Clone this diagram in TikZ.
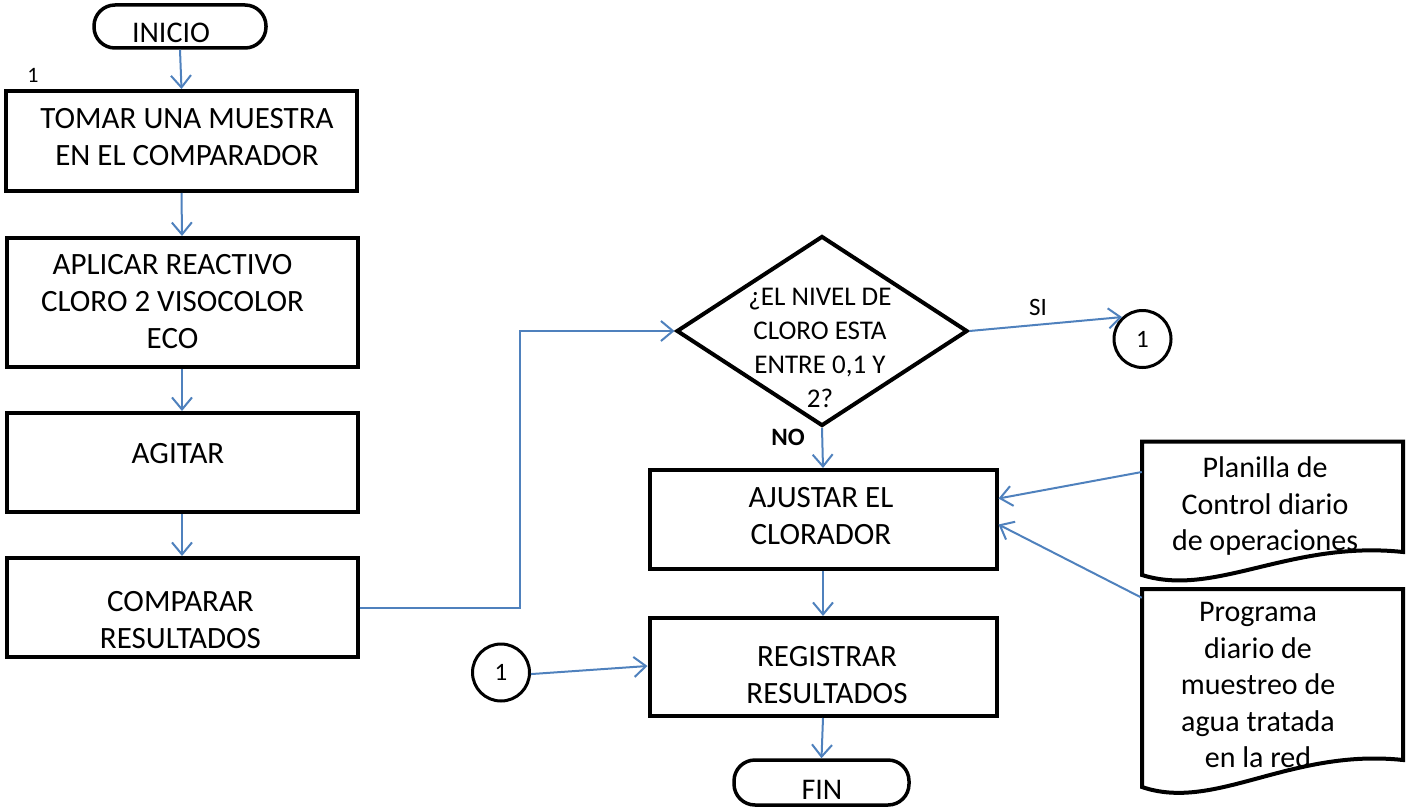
\documentclass[tikz,border=0pt]{standalone}
\usepackage{fontspec}
\setmainfont{Carlito}
\usetikzlibrary{arrows.meta,shapes.geometric}
\definecolor{flowblue}{RGB}{79,129,189}
\tikzset{
  procbox/.style={draw, line width=4pt, inner sep=0pt, minimum width=351pt, minimum height=100pt},
  termbox/.style={draw, line width=3.5pt, rounded corners=21pt, inner sep=0pt},
  decbox/.style={draw, diamond, line width=4pt, inner sep=0pt, minimum width=291pt, minimum height=190pt},
  conn/.style={draw, circle, line width=3pt, inner sep=0pt, minimum size=57pt,
    font=\fontsize{25}{30}\selectfont},
  docline/.style={draw, line width=4pt, line join=miter},
  docarea/.style={inner sep=0pt, minimum width=261pt},
  bigtxt/.style={align=center, inner sep=0pt, font=\fontsize{31}{37}\selectfont},
  midtxt/.style={align=center, inner sep=0pt, font=\fontsize{27}{34}\selectfont},
  doctxt/.style={align=center, inner sep=0pt, font=\fontsize{30}{36.5}\selectfont},
  smalltxt/.style={inner sep=0pt, font=\fontsize{25}{30}\selectfont},
  flow/.style={draw=flowblue, line width=2pt, -{Straight Barb[length=12pt,width=20pt]}}
}
\begin{document}
\begin{tikzpicture}[x=1pt, y=-1pt]
\useasboundingbox (0,0) rectangle (1408,808);

% left column
\node[termbox, minimum width=172pt, minimum height=43pt] (ini) at (180,26.5) {};
\node[bigtxt, font=\fontsize{30}{36}\selectfont] (tini) at (171,32.5) {INICIO};
\node[smalltxt, font=\fontsize{22}{26}\selectfont] (lab1) at (33,75) {1};

\node[procbox] (b1) at (181.5,141) {};
\node[bigtxt] (t1) at (187,137.5) {TOMAR UNA MUESTRA\\EN EL COMPARADOR};

\node[procbox, minimum height=129pt] (b2) at (182,302.5) {};
\node[bigtxt] (t2) at (172.5,301.5) {APLICAR REACTIVO\\CLORO 2 VISOCOLOR\\ECO};

\node[procbox, minimum height=99pt] (b3) at (182,462.5) {};
\node[bigtxt] (t3) at (178,454) {AGITAR};

\node[procbox, minimum height=99pt] (b4) at (182,607.5) {};
\node[bigtxt] (t4) at (180.5,620) {COMPARAR\\RESULTADOS};

% decision and right column
\node[decbox] (dia) at (822,331) {};
\node[midtxt] (tdia) at (820,348) {¿EL NIVEL DE\\CLORO ESTA\\ENTRE 0,1 Y\\2?};

\node[conn] (c1) at (1142.5,339) {1};
\node[smalltxt] (si) at (1038,307.5) {SI};
\node[smalltxt, font=\fontsize{25}{30}\selectfont\bfseries] (no) at (788,437.5) {NO};

\node[procbox, minimum width=347pt, minimum height=99pt] (aj) at (823,519.5) {};
\node[bigtxt] (taj) at (821,516) {AJUSTAR EL\\CLORADOR};

\node[procbox, minimum width=347pt, minimum height=98pt] (reg) at (823,667) {};
\node[bigtxt] (treg) at (827,675.5) {REGISTRAR\\RESULTADOS};

\node[conn] (c2) at (501,672.5) {1};

\node[termbox, minimum width=175pt, minimum height=45pt] (fin) at (821.5,782.5) {};
\node[bigtxt, font=\fontsize{30}{36}\selectfont] (tfin) at (822,790) {FIN};

% documents
\node[docarea, minimum height=133.5pt] (d1) at (1272.5,508) {};
\draw[docline] (1142,575) -- (1142,441.5) -- (1403,441.5) -- (1403,552)
  .. controls (1290,540) and (1215,598) .. (1142,575) -- cycle;
\node[doctxt] (td1) at (1265,506) {Planilla de\\Control diario\\de operaciones};

\node[docarea, minimum height=198pt] (d2) at (1272.5,688) {};
\draw[docline] (1142,787) -- (1142,589) -- (1403,589) -- (1403,760)
  .. controls (1290,748) and (1215,812) .. (1142,787) -- cycle;
\node[doctxt] (td2) at (1258,685) {Programa\\diario de\\muestreo de\\agua tratada\\en la red};

% connectors
\draw[flow] (ini.south) -- (b1.north);
\draw[flow] (b1.south) -- (b2.north);
\draw[flow] (b2.south) -- (b3.north);
\draw[flow] (b3.south) -- (b4.north);
\draw[flow] (b4.east) -- ++(160,0) |- (dia.west);
\draw[flow] (dia.east) -- (c1.133);
\draw[flow] (dia.south) -- (aj.north);
\draw[flow] (aj.south) -- (reg.north);
\draw[flow] (reg.south) -- (fin.north);
\draw[flow] (c2.-3) -- ([yshift=1pt]reg.west);
\draw[flow] ([yshift=36pt]d1.west) -- ([yshift=21pt]aj.east);
\draw[flow] ([yshift=-9pt]d2.north west) -- ([yshift=-5pt]aj.east);
\end{tikzpicture}
\end{document}
